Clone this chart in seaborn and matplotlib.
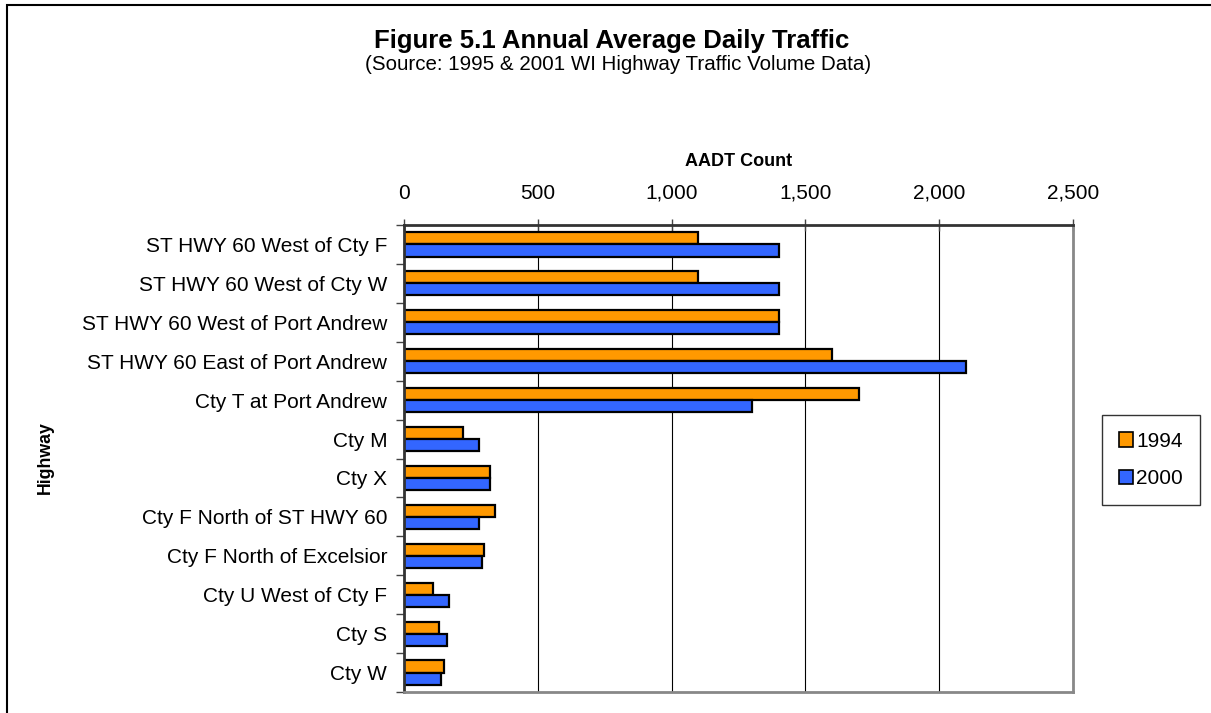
import numpy as np
import pandas as pd
import matplotlib.pyplot as plt
import seaborn as sns
from matplotlib.patches import Patch, Rectangle
from matplotlib.ticker import FuncFormatter, FixedLocator

# --- Data ---
HIGHWAYS = [
    "ST HWY 60 West of Cty F",
    "ST HWY 60 West of Cty W",
    "ST HWY 60 West of Port Andrew",
    "ST HWY 60 East of Port Andrew",
    "Cty T at Port Andrew",
    "Cty M",
    "Cty X",
    "Cty F North of ST HWY 60",
    "Cty F North of Excelsior",
    "Cty U West of Cty F",
    "Cty S",
    "Cty W",
]
AADT_1994 = [1100, 1100, 1400, 1600, 1700, 220, 320, 340, 300, 110, 130, 150]
AADT_2000 = [1400, 1400, 1400, 2100, 1300, 280, 320, 280, 290, 170, 160, 140]
YEARS = ["1994", "2000"]
COLORS = {"1994": "#FF9900", "2000": "#3366FF"}

W, H = 1211, 713


def build_frame():
    rows = []
    for name, a, b in zip(HIGHWAYS, AADT_1994, AADT_2000):
        rows.append({"Highway": name, "Year": "1994", "AADT": a})
        rows.append({"Highway": name, "Year": "2000", "AADT": b})
    return pd.DataFrame(rows)


def main():
    df = build_frame()
    sns.set_theme(style="white")
    plt.rcParams["font.family"] = ["Liberation Sans", "DejaVu Sans"]
    for key in ["text.color", "axes.labelcolor", "xtick.color", "ytick.color"]:
        plt.rcParams[key] = "black"

    fig = plt.figure(figsize=(W / 100, H / 100), dpi=100)
    ax = fig.add_axes([404 / W, 1 - 692 / H, (1073 - 404) / W, (692 - 225) / H])

    sns.barplot(
        data=df, y="Highway", x="AADT", hue="Year", hue_order=YEARS,
        order=HIGHWAYS, palette=COLORS, orient="h", width=0.62,
        edgecolor="black", linewidth=1.6, saturation=1, ax=ax, legend=False,
    )

    ax.set_xlim(0, 2500)
    ax.set_ylim(len(HIGHWAYS) - 0.5, -0.5)
    ax.xaxis.tick_top()
    ax.xaxis.set_label_position("top")
    ax.set_xticks(np.arange(0, 2501, 500))
    ax.xaxis.set_major_formatter(FuncFormatter(lambda v, p: f"{int(v):,}"))
    ax.tick_params(axis="x", which="major", top=True, bottom=False, direction="inout",
                   length=8, width=1, color="#444444", labelsize=15, pad=15)
    # keep all numbers on one baseline (commas would otherwise lift some)
    for lbl in ax.xaxis.get_majorticklabels():
        lbl.set_verticalalignment("baseline")
    ax.grid(axis="x", color="black", linewidth=0.8)
    ax.set_axisbelow(True)

    # category labels at centres, tick marks between categories
    ax.tick_params(axis="y", which="major", left=False, length=0, labelsize=15, pad=12)
    ax.yaxis.set_minor_locator(FixedLocator(np.arange(-0.5, len(HIGHWAYS), 1.0)))
    ax.tick_params(axis="y", which="minor", left=True, direction="out",
                   length=6, width=1, color="#444444")

    ax.set_xlabel("AADT Count", fontsize=13, fontweight="bold", labelpad=13)
    ax.set_ylabel("")

    for side in ["top", "left"]:
        ax.spines[side].set_color("#333333")
        ax.spines[side].set_linewidth(2)
    for side in ["right", "bottom"]:
        ax.spines[side].set_color("#888888")
        ax.spines[side].set_linewidth(2)

    fig.text(612 / W, 1 - 41 / H, "Figure 5.1 Annual Average Daily Traffic",
             ha="center", va="center", fontsize=18.5, fontweight="bold")
    fig.text(618 / W, 1 - 64 / H, "(Source: 1995 & 2001 WI Highway Traffic Volume Data)",
             ha="center", va="center", fontsize=14.8)
    fig.text(45 / W, 1 - 458 / H, "Highway", rotation=90, ha="center", va="center",
             fontsize=12.8, fontweight="bold")

    handles = [Patch(facecolor=COLORS[y], edgecolor="black", linewidth=1.2) for y in YEARS]
    leg = fig.legend(handles, YEARS, loc="center", bbox_to_anchor=(1151 / W, 1 - 460 / H),
                     frameon=True, fancybox=False, fontsize=15, handlelength=0.7,
                     handleheight=0.7, handletextpad=0.15, labelspacing=0.9,
                     borderpad=0.8, borderaxespad=0)
    leg.get_frame().set_edgecolor("black")
    leg.get_frame().set_linewidth(1)

    # outer chart border
    fig.patches.append(Rectangle((7 / W, -0.1), 1.2, 1 - 5 / H + 0.1, transform=fig.transFigure,
                                 fill=False, edgecolor="black", linewidth=1.5))

    fig.savefig("out.png", dpi=100)


if __name__ == "__main__":
    main()
